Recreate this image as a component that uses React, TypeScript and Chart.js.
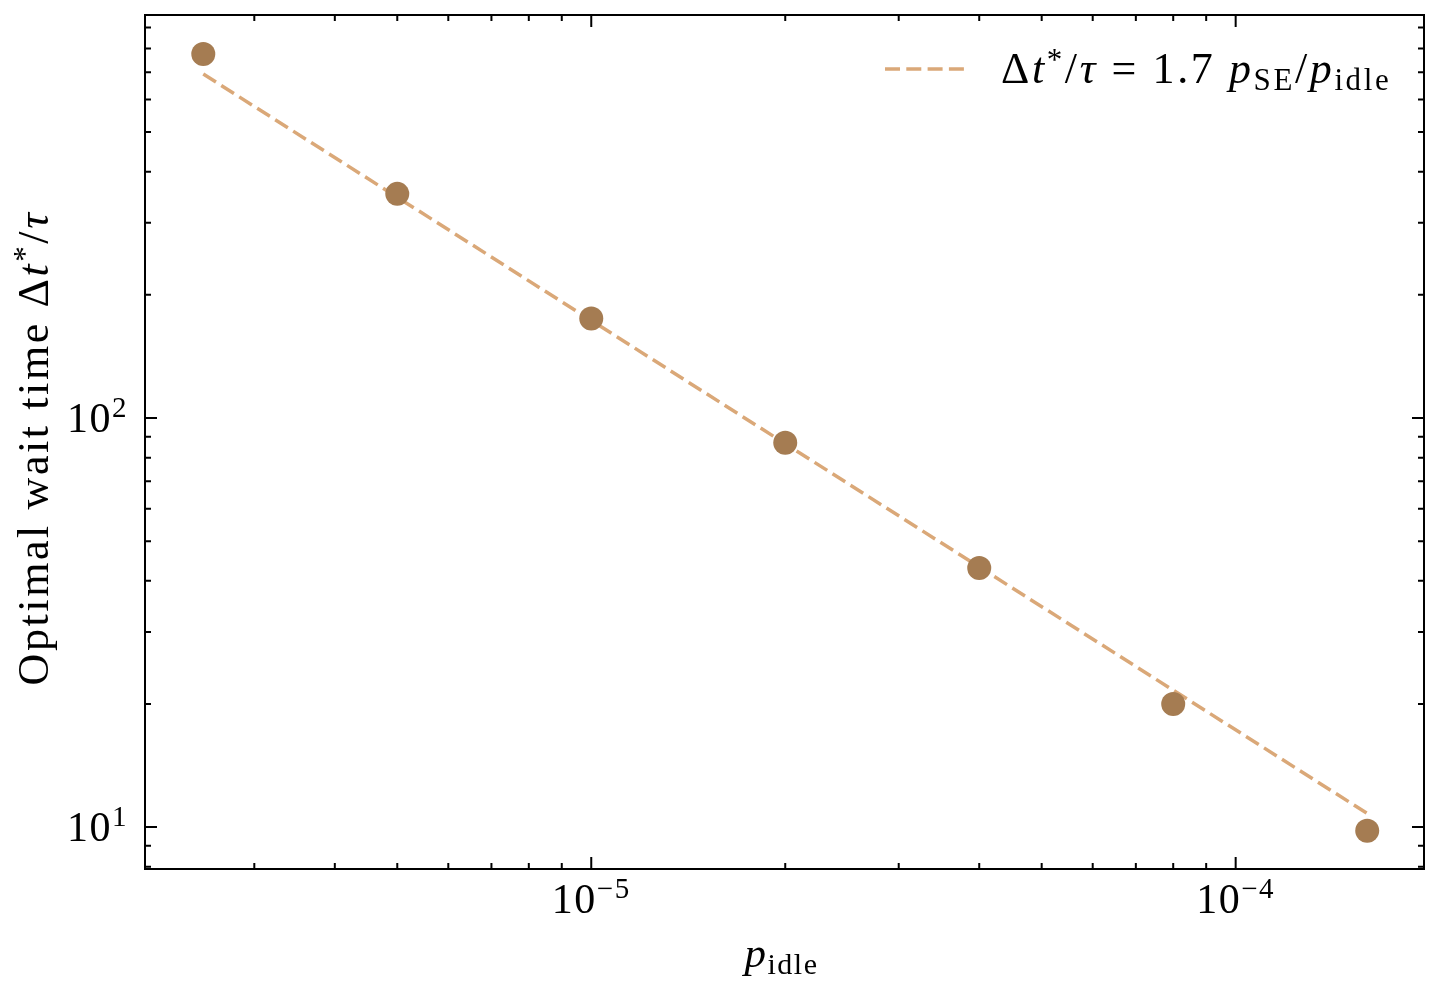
import { useEffect, useRef } from "react";
import { Chart, registerables } from "chart.js";

Chart.register(...registerables);

// measured points
const pIdle = [2.5e-6, 5e-6, 1e-5, 2e-5, 4e-5, 8e-5, 1.6e-4];
const waitTime = [776, 353, 175, 87, 43, 20, 9.8];

// fitted line  Δt*/τ = 1.7 p_SE / p_idle
const fitX = [2.5e-6, 1.6e-4];
const fitY = [693, 10.8];

// axis limits and labelled decades
const xLimits = [2.03e-6, 1.96e-4];
const yLimits = [7.9, 966];
const xMajorTicks = [1e-5, 1e-4];
const yMajorTicks = [10, 100];

const MARKER = "#a57c52";
const LINE = "#daa878";
const FONT = '"Liberation Serif", "Times New Roman", serif';

type Seg = { t: string; it?: boolean; sc?: number; dy?: number };

const segFont = (s: Seg, size: number) =>
    `${s.it ? "italic " : ""}${Math.round(size * (s.sc ?? 1))}px ${FONT}`;

function drawRich(
    ctx: CanvasRenderingContext2D,
    segs: Seg[],
    x: number,
    y: number,
    size: number,
    align: "left" | "center" | "right",
    spacing = 0,
) {
    (ctx as any).letterSpacing = `${spacing}px`;
    let w = 0;
    for (const s of segs) {
        ctx.font = segFont(s, size);
        w += ctx.measureText(s.t).width;
    }
    let cx = align === "left" ? x : align === "center" ? x - w / 2 : x - w;
    ctx.textAlign = "left";
    ctx.textBaseline = "alphabetic";
    for (const s of segs) {
        ctx.font = segFont(s, size);
        ctx.fillText(s.t, cx, y - (s.dy ?? 0) * size);
        cx += ctx.measureText(s.t).width;
    }
    (ctx as any).letterSpacing = "0px";
}

const powerLabel = (v: number): Seg[] => {
    const e = Math.round(Math.log10(v));
    return [{ t: "10" }, { t: String(e).replace("-", "\u2212"), sc: 0.7, dy: 0.36 }];
};

function logTicks(min: number, max: number) {
    const out: { v: number; major: boolean }[] = [];
    for (let e = Math.floor(Math.log10(min)); e <= Math.ceil(Math.log10(max)); e++) {
        for (let s = 1; s <= 9; s++) {
            const v = s * Math.pow(10, e);
            if (v >= min && v <= max) out.push({ v, major: s === 1 });
        }
    }
    return out;
}

const yTitle: Seg[] = [
    { t: "Optimal wait time " },
    { t: "\u0394" },
    { t: "t", it: true },
    { t: "*", sc: 0.7, dy: 0.3 },
    { t: "/" },
    { t: "\u03c4", it: true },
];

const xTitle: Seg[] = [{ t: "p", it: true }, { t: "idle", sc: 0.7, dy: -0.16 }];

const legendText: Seg[] = [
    { t: "\u0394" },
    { t: "t", it: true },
    { t: "*", sc: 0.7, dy: 0.3 },
    { t: "/" },
    { t: "\u03c4", it: true },
    { t: " = " },
    { t: "1.7 " },
    { t: "p", it: true },
    { t: "SE", sc: 0.7, dy: -0.16 },
    { t: "/" },
    { t: "p", it: true },
    { t: "idle", sc: 0.7, dy: -0.16 },
];

const decorPlugin = {
    id: "decor",
    afterDraw(chart: Chart) {
        const { ctx, chartArea } = chart;
        const { left, right, top, bottom } = chartArea;
        const xs = chart.scales.x;
        const ys = chart.scales.y;
        ctx.save();
        ctx.strokeStyle = "#000";
        ctx.fillStyle = "#000";
        ctx.lineWidth = 2;
        ctx.setLineDash([]);

        // frame
        ctx.strokeRect(left, top, right - left, bottom - top);

        // inward ticks on all four sides
        ctx.beginPath();
        for (const t of logTicks(xs.min, xs.max)) {
            const px = xs.getPixelForValue(t.v);
            const len = t.major ? 12 : 6;
            ctx.moveTo(px, bottom);
            ctx.lineTo(px, bottom - len);
            ctx.moveTo(px, top);
            ctx.lineTo(px, top + len);
        }
        for (const t of logTicks(ys.min, ys.max)) {
            const py = ys.getPixelForValue(t.v);
            const len = t.major ? 12 : 6;
            ctx.moveTo(left, py);
            ctx.lineTo(left + len, py);
            ctx.moveTo(right, py);
            ctx.lineTo(right - len, py);
        }
        ctx.stroke();

        // tick labels
        for (const v of xMajorTicks) {
            drawRich(ctx, powerLabel(v), xs.getPixelForValue(v), bottom + 44, 42, "center", 1.5);
        }
        for (const v of yMajorTicks) {
            drawRich(ctx, powerLabel(v), left - 17, ys.getPixelForValue(v) + 14, 42, "right", 1.5);
        }

        // axis titles
        drawRich(ctx, xTitle, (left + right) / 2 - 3, bottom + 98, 43, "center", 1.5);
        ctx.save();
        ctx.translate(48, (top + bottom) / 2 + 6);
        ctx.rotate(-Math.PI / 2);
        drawRich(ctx, yTitle, 0, 0, 44, "center", 2.6);
        ctx.restore();

        // legend
        ctx.strokeStyle = LINE;
        ctx.lineWidth = 3.5;
        ctx.setLineDash([15, 6.3]);
        ctx.beginPath();
        ctx.moveTo(right - 539, top + 54);
        ctx.lineTo(right - 460, top + 54);
        ctx.stroke();
        ctx.setLineDash([]);
        drawRich(ctx, legendText, right - 423, top + 68, 44, "left", 2.6);

        ctx.restore();
    },
};

const App: React.FC = () => {
    const canvasRef = useRef<HTMLCanvasElement | null>(null);

    useEffect(() => {
        if (!canvasRef.current) return;
        const ctx = canvasRef.current.getContext("2d");
        if (!ctx) return;

        const chartInstance = new Chart(ctx, {
            type: "scatter",
            data: {
                datasets: [
                    {
                        label: "simulation",
                        data: pIdle.map((x, i) => ({ x, y: waitTime[i] })),
                        pointRadius: 12,
                        pointBackgroundColor: MARKER,
                        pointBorderWidth: 0,
                        order: 0,
                    },
                    {
                        label: "fit",
                        data: fitX.map((x, i) => ({ x, y: fitY[i] })),
                        showLine: true,
                        borderColor: LINE,
                        borderWidth: 3.5,
                        borderDash: [15, 6.3],
                        pointRadius: 0,
                        order: 1,
                    },
                ],
            },
            options: {
                responsive: true,
                maintainAspectRatio: false,
                animation: false,
                events: [],
                layout: { padding: { left: 145, right: 16, top: 15, bottom: 121 } },
                plugins: {
                    legend: { display: false },
                    tooltip: { enabled: false },
                },
                scales: {
                    x: { type: "logarithmic", min: xLimits[0], max: xLimits[1], display: false },
                    y: { type: "logarithmic", min: yLimits[0], max: yLimits[1], display: false },
                },
            },
            plugins: [decorPlugin],
        });

        return () => {
            chartInstance.destroy();
        };
    }, []);

    return (
        <div style={{ position: "absolute", left: 0, top: 0, width: 1440, height: 990, background: "#fff" }}>
            <canvas ref={canvasRef}></canvas>
        </div>
    );
};

export default App;
